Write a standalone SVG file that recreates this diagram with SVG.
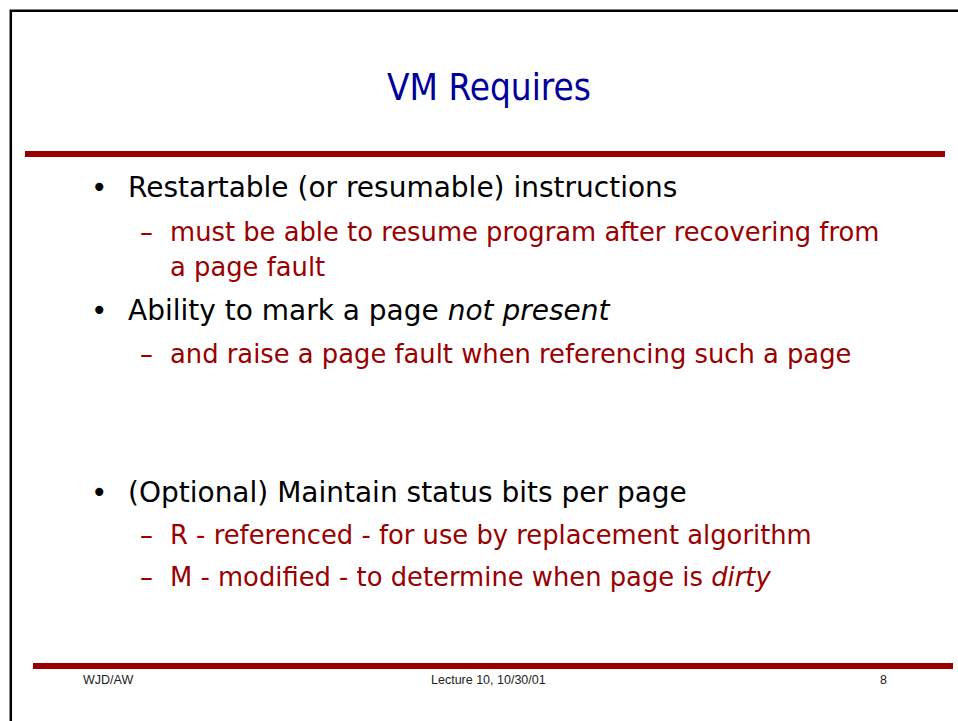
<svg xmlns="http://www.w3.org/2000/svg" width="958" height="721" viewBox="0 0 958 721">
  <style>
    .title { font-family: "DejaVu Sans Condensed", "DejaVu Sans", sans-serif; font-stretch: condensed; font-size: 36.6px; fill: #000099; }
    .l1 { font-family: "DejaVu Sans", "Liberation Sans", sans-serif; font-size: 28px; fill: #000000; }
    .l2 { font-family: "DejaVu Sans", "Liberation Sans", sans-serif; font-size: 25.8px; fill: #990000; }
    .foot { font-family: "Liberation Sans", Arial, sans-serif; font-size: 12.5px; fill: #222222; }
    .bar { fill: #990000; }
    .it { font-style: italic; }
  </style>
  <rect x="0" y="0" width="958" height="721" fill="#ffffff"/>
  <g id="frame">
    <path d="M10.8 721 V10.8 H958" fill="none" stroke="#000000" stroke-width="2.5"/>
  </g>
  <g id="title">
    <text class="title" x="489" y="100" text-anchor="middle">VM Requires</text>
    <rect class="bar" x="25" y="151" width="920" height="6"/>
  </g>
  <g id="body">
    <text class="l1" x="91" y="197">•</text>
    <text class="l1" x="128" y="197">Restartable (or resumable) instructions</text>
    <text class="l2" x="140" y="241">–</text>
    <text class="l2" x="170" y="241">must be able to resume program after recovering from</text>
    <text class="l2" x="170" y="276">a page fault</text>
    <text class="l1" x="91" y="320">•</text>
    <text class="l1" x="128" y="320">Ability to mark a page <tspan class="it">not present</tspan></text>
    <text class="l2" x="140" y="363">–</text>
    <text class="l2" x="170" y="363">and raise a page fault when referencing such a page</text>
    <text class="l1" x="91" y="502">•</text>
    <text class="l1" x="128" y="502">(Optional) Maintain status bits per page</text>
    <text class="l2" x="140" y="544">–</text>
    <text class="l2" x="170" y="544">R - referenced - for use by replacement algorithm</text>
    <text class="l2" x="140" y="586">–</text>
    <text class="l2" x="170" y="586">M - modified - to determine when page is <tspan class="it">dirty</tspan></text>
  </g>
  <g id="footer">
    <rect class="bar" x="33" y="663" width="920" height="6"/>
    <text class="foot" x="83" y="684">WJD/AW</text>
    <text class="foot" x="431" y="684">Lecture 10, 10/30/01</text>
    <text class="foot" x="880" y="684">8</text>
  </g>
</svg>
